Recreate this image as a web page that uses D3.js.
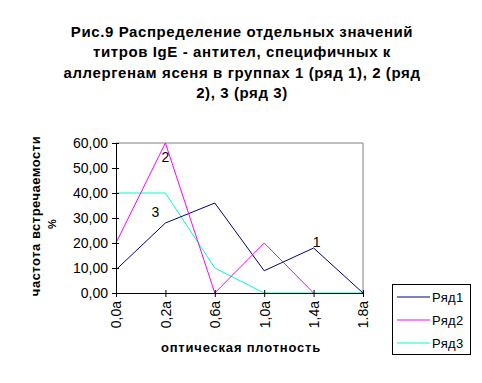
<!DOCTYPE html>
<html><head><meta charset="utf-8">
<script src="https://cdn.jsdelivr.net/npm/d3@7"></script>
<style>body{margin:0;background:#fff}text{font-family:"Liberation Sans",Arial,sans-serif}</style>
</head><body><svg id="c" width="482" height="383"></svg>
<script>
const categories = ["0,0a","0,2a","0,6a","1,0a","1,4a","1.8a"];
const series1 = [9.3, 28, 36, 8.9, 18, 0];
const series2 = [20, 60, 0, 20, 0, null];
const series3 = [40, 40, 10, 0, 0, 0];
const seriesNames = ["Ряд1","Ряд2","Ряд3"];
const colors = ["#000080","#ff00ff","#00ffcc"];
const yTicks = [0,10,20,30,40,50,60];
const titleLines = ["Рис.9 Распределение отдельных значений","титров IgE - антител, специфичных к","аллергенам ясеня в группах 1 (ряд 1), 2 (ряд","2), 3 (ряд 3)"];

const svg = d3.select("#c");
const L=116,R=363,T=143,B=293;
const x = d3.scalePoint().domain(categories).range([L,R]);
const y = d3.scaleLinear().domain([0,60]).range([B,T]);

// title
titleLines.forEach((t,i)=>svg.append("text").attr("x",242).attr("y",37+i*20.3).attr("text-anchor","middle")
  .attr("font-size",15).attr("letter-spacing",0.6).attr("font-weight","bold").text(t));

// frame top/right gray
svg.append("path").attr("d",`M${L},${T}H${R}V${B}`).attr("fill","none").attr("stroke","#808080");

// lines
const all=[series1,series2,series3];
const line=d3.line().defined(d=>d!=null).x((d,i)=>x(categories[i])).y(d=>y(d));
[2,0,1].forEach(k=>{
  svg.append("path").attr("d",line(all[k])).attr("fill","none").attr("stroke",colors[k]).attr("stroke-width",1);
});

// axes
const ya=svg.append("g").attr("transform",`translate(${L},0)`).call(d3.axisLeft(y).tickValues(yTicks).tickFormat(d=>d3.format(".2f")(d).replace(".",",")).tickSize(4).tickSizeOuter(0));
ya.selectAll(".tick line").attr("x2",3).attr("x1",-4);
ya.selectAll("text").attr("font-size",14).attr("font-family","Liberation Sans, Arial").attr("dx",-1);
ya.select(".domain").attr("stroke","#000");
const xa=svg.append("g").attr("transform",`translate(0,${B})`).call(d3.axisBottom(x).tickSize(4).tickSizeOuter(0));
xa.selectAll(".tick line").attr("y1",-3).attr("y2",4);
xa.selectAll("text").attr("font-size",14).attr("font-family","Liberation Sans, Arial")
  .attr("transform","rotate(-90)").attr("text-anchor","end").attr("x",-8).attr("y",0).attr("dy","0.35em");

// data labels
svg.append("text").attr("x",x(categories[1])).attr("y",y(series2[1])+19).attr("text-anchor","middle").attr("font-size",14).text("2");
svg.append("text").attr("x",x(categories[1])-10).attr("y",y(series3[1])+24).attr("text-anchor","middle").attr("font-size",14).text("3");
svg.append("text").attr("x",x(categories[4])+3).attr("y",y(series1[4])-1).attr("text-anchor","middle").attr("font-size",14).text("1");

// axis titles
svg.append("text").attr("transform","translate(40,216) rotate(-90)").attr("text-anchor","middle").attr("font-size",13).attr("letter-spacing",0.5).attr("font-weight","bold").text("частота встречаемости");
svg.append("text").attr("transform","translate(56,224) rotate(-90)").attr("text-anchor","middle").attr("font-size",11).attr("font-weight","bold").text("%");
svg.append("text").attr("x",241).attr("y",352).attr("text-anchor","middle").attr("font-size",13).attr("letter-spacing",0.8).attr("font-weight","bold").text("оптическая плотность");

// legend
const lg=svg.append("g");
lg.append("rect").attr("x",392.5).attr("y",284.5).attr("width",78).attr("height",70).attr("fill","#fff").attr("stroke","#000");
seriesNames.forEach((n,i)=>{
  const yy=297+i*23;
  lg.append("line").attr("x1",397).attr("x2",430).attr("y1",yy).attr("y2",yy).attr("stroke",colors[i]);
  lg.append("text").attr("x",432).attr("y",yy).attr("dy","0.35em").attr("font-size",13).attr("letter-spacing",0.4).text(n);
});
</script></body></html>
